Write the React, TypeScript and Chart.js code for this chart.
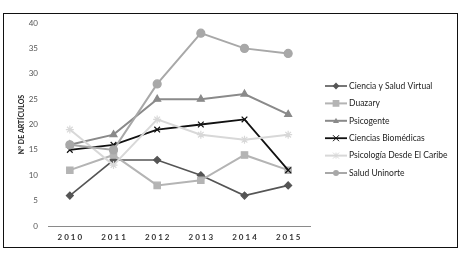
import React, { useEffect, useRef } from "react";
import { Chart, registerables } from "chart.js";

Chart.register(...registerables);

const years = ["2010", "2011", "2012", "2013", "2014", "2015"];
const seriesNames = [
  "Ciencia y Salud Virtual",
  "Duazary",
  "Psicogente",
  "Ciencias Biomédicas",
  "Psicología Desde El Caribe",
  "Salud Uninorte",
];
const cienciaSalud = [6, 13, 13, 10, 6, 8];
const duazary = [11, 14, 8, 9, 14, 11];
const psicogente = [16, 18, 25, 25, 26, 22];
const biomedicas = [15, 16, 19, 20, 21, 11];
const psicologia = [19, 12, 21, 18, 17, 18];
const saludUninorte = [16, 15, 28, 38, 35, 34];
const yTitle = "N° DE ARTÍCULOS";

const seriesValues = [cienciaSalud, duazary, psicogente, biomedicas, psicologia, saludUninorte];
const colors = ["#555555", "#b4b4b4", "#8a8a8a", "#111111", "#d8d8d8", "#a8a8a8"];
const pointStyles = ["rectRot", "rect", "triangle", "crossRot", "star", "circle"];
const pointRadii = [3.5, 4.5, 4, 4, 4, 4];
const lineWidths = [1.6, 2, 2, 1.8, 2, 2];

const xLabelsPlugin = {
  id: "xLabels",
  afterDraw(chart: any) {
    const ctx = chart.ctx;
    const xs = chart.scales.x;
    ctx.save();
    ctx.font = "bold 8px Lato";
    (ctx as any).letterSpacing = "2px";
    ctx.fillStyle = "#333333";
    ctx.textAlign = "center";
    ctx.textBaseline = "middle";
    years.forEach((y, i) => {
      ctx.fillText(y, xs.getPixelForTick(i) + 1, 237);
    });
    ctx.restore();
  },
};

function drawMarker(ctx: CanvasRenderingContext2D, style: string, x: number, y: number, r: number, color: string) {
  ctx.save();
  ctx.fillStyle = color;
  ctx.strokeStyle = color;
  ctx.lineWidth = 1;
  ctx.beginPath();
  if (style === "circle") {
    ctx.arc(x, y, r, 0, Math.PI * 2);
    ctx.fill();
  } else if (style === "rect") {
    ctx.rect(x - r, y - r, 2 * r, 2 * r);
    ctx.fill();
  } else if (style === "rectRot") {
    ctx.moveTo(x, y - r * 1.3);
    ctx.lineTo(x + r * 1.3, y);
    ctx.lineTo(x, y + r * 1.3);
    ctx.lineTo(x - r * 1.3, y);
    ctx.closePath();
    ctx.fill();
  } else if (style === "triangle") {
    ctx.moveTo(x, y - r);
    ctx.lineTo(x + r, y + r * 0.7);
    ctx.lineTo(x - r, y + r * 0.7);
    ctx.closePath();
    ctx.fill();
  } else if (style === "crossRot") {
    ctx.moveTo(x - r, y - r);
    ctx.lineTo(x + r, y + r);
    ctx.moveTo(x + r, y - r);
    ctx.lineTo(x - r, y + r);
    ctx.stroke();
  } else if (style === "star") {
    ctx.moveTo(x - r, y - r);
    ctx.lineTo(x + r, y + r);
    ctx.moveTo(x + r, y - r);
    ctx.lineTo(x - r, y + r);
    ctx.moveTo(x, y - r);
    ctx.lineTo(x, y + r);
    ctx.stroke();
  }
  ctx.restore();
}

const legendPlugin = {
  id: "sideLegend",
  afterDraw(chart: any) {
    const ctx = chart.ctx;
    ctx.save();
    chart.data.datasets.forEach((ds: any, i: number) => {
      const y = 86 + i * 17.4;
      ctx.strokeStyle = ds.borderColor;
      ctx.lineWidth = ds.borderWidth;
      ctx.beginPath();
      ctx.moveTo(325, y);
      ctx.lineTo(347, y);
      ctx.stroke();
      drawMarker(ctx, ds.pointStyle, 336, y, ds.pointRadius * 0.75, ds.borderColor);
      ctx.fillStyle = "#222222";
      ctx.font = "8.5px Lato";
      ctx.textAlign = "left";
      ctx.textBaseline = "middle";
      ctx.fillText(ds.label, 349, y);
    });
    ctx.restore();
  },
};

export default function App() {
  const ref = useRef<HTMLCanvasElement | null>(null);
  useEffect(() => {
    if (!ref.current) return;
    const n = seriesValues.length;
    const chart = new Chart(ref.current, {
      type: "line",
      data: {
        labels: years,
        datasets: seriesValues.map((vals, i) => ({
          label: seriesNames[i],
          data: vals,
          borderColor: colors[i],
          backgroundColor: colors[i],
          pointBackgroundColor: colors[i],
          pointBorderColor: colors[i],
          borderWidth: lineWidths[i],
          pointStyle: pointStyles[i] as any,
          pointRadius: pointRadii[i],
          pointBorderWidth: 1.2,
          tension: 0,
          order: n - 1 - i,
        })),
      },
      options: {
        responsive: false,
        animation: false,
        layout: { padding: { left: 0, right: 155, top: 23, bottom: 0 } },
        plugins: { legend: { display: false }, tooltip: { enabled: false } },
        scales: {
          x: {
            offset: true,
            grid: { display: false, drawTicks: false },
            border: { display: true, color: "#8a8a8a", width: 1 },
            ticks: { display: false },
            afterFit: (s: any) => {
              s.height = 27;
            },
          },
          y: {
            min: 0,
            max: 40,
            grid: { display: false, drawTicks: false },
            border: { display: false },
            ticks: {
              stepSize: 5,
              padding: 10,
              color: "#555555",
              font: { family: "Lato", size: 8 },
            },
            title: {
              display: true,
              text: yTitle,
              color: "#222222",
              font: { family: "Lato", size: 7, weight: "bold" },
              padding: { top: 18, bottom: 0 },
            },
            afterFit: (s: any) => {
              s.width = 48;
            },
          },
        },
      },
      plugins: [xLabelsPlugin, legendPlugin],
    });
    return () => chart.destroy();
  }, []);
  return (
    <div style={{ position: "fixed", left: 0, top: 0, width: 465, height: 253, background: "#fff" }}>
      <div
        style={{
          position: "absolute",
          left: 3,
          top: 13,
          width: 453,
          height: 233,
          border: "1px solid #111",
        }}
      />
      <canvas
        ref={ref}
        width={465}
        height={253}
        style={{ position: "absolute", left: 0, top: 0, width: 465, height: 253 }}
      />
    </div>
  );
}
